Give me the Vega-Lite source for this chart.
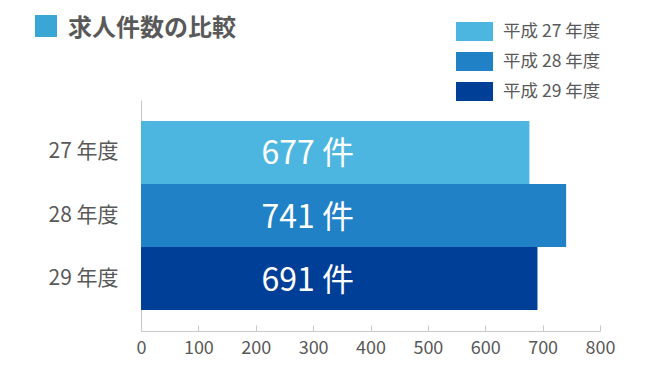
{
  "$schema": "https://vega.github.io/schema/vega-lite/v6.json",
  "width": 459,
  "height": 231,
  "autosize": {"type": "none"},
  "padding": {"left": 141, "top": 100, "right": 60, "bottom": 43},
  "background": "white",
  "config": {"font": "Noto Sans CJK JP", "view": {"stroke": null}},
  "title": {"text": "求人件数の比較", "anchor": "start", "fontSize": 24, "fontWeight": "bold", "color": "#595959", "dx": 33, "dy": 26, "offset": 0},
  "data": {"values": [
    {"年度": "27 年度", "凡例": "平成 27 年度", "件数": 677, "ラベル": "677 件", "区分": "求人件数"},
    {"年度": "28 年度", "凡例": "平成 28 年度", "件数": 741, "ラベル": "741 件", "区分": "求人件数"},
    {"年度": "29 年度", "凡例": "平成 29 年度", "件数": 691, "ラベル": "691 件", "区分": "求人件数"}
  ]},
  "layer": [
    {
      "mark": {"type": "bar"},
      "encoding": {
        "y": {"field": "年度", "type": "nominal", "sort": null,
          "scale": {"paddingInner": 0, "paddingOuter": 0.333},
          "axis": {"title": null, "ticks": false, "domainColor": "#c8c8c8", "labelFontSize": 21, "labelColor": "#595959", "labelPadding": 23, "labelFontWeight": "normal"}},
        "x": {"field": "件数", "type": "quantitative",
          "scale": {"domain": [0, 800]},
          "axis": {"title": null, "values": [0, 100, 200, 300, 400, 500, 600, 700, 800], "grid": false, "labelFlush": false, "domainColor": "#c8c8c8", "tickColor": "#c8c8c8", "tickSize": -6, "labelFontSize": 18, "labelColor": "#595959", "labelPadding": 14}},
        "color": {"field": "凡例", "type": "nominal",
          "scale": {"range": ["#4db6e0", "#2181c6", "#003f97"]},
          "legend": {"orient": "none", "legendX": 324, "legendY": -78, "title": null, "symbolType": "M-1.95,-1H1.95V1H-1.95Z", "symbolSize": 361, "symbolStrokeWidth": 0, "labelFontSize": 17.5, "labelColor": "#595959", "labelOffset": 19, "rowPadding": 11, "padding": 0}},
        "opacity": {"field": "区分", "type": "nominal", "scale": {"range": [1]},
          "legend": {"orient": "none", "legendX": -106, "legendY": -85, "title": null, "symbolType": "square", "symbolSize": 484, "symbolFillColor": "#3aa6d6", "symbolOpacity": 1, "labelExpr": "''", "padding": 0, "symbolStrokeWidth": 0}}
      }
    },
    {
      "mark": {"type": "text", "align": "left", "baseline": "middle", "fontSize": 32, "color": "white", "dy": 2},
      "encoding": {
        "y": {"field": "年度", "type": "nominal", "sort": null},
        "x": {"datum": 210, "type": "quantitative"},
        "text": {"field": "ラベル"}
      }
    }
  ]
}
